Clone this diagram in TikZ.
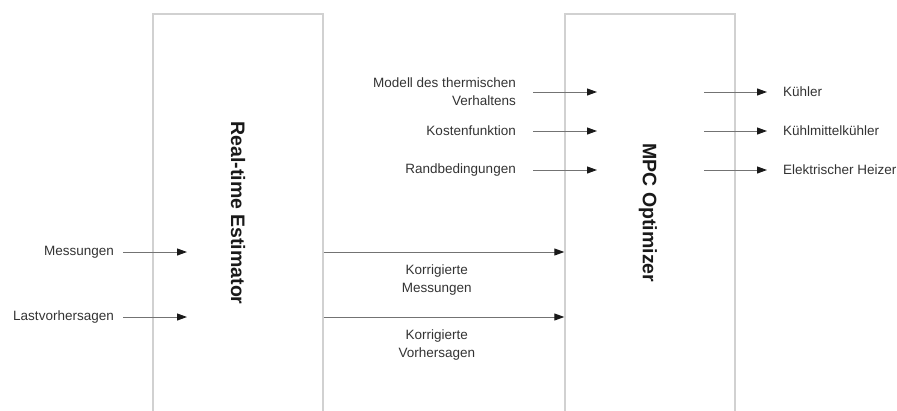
\documentclass[tikz,border=0pt]{standalone}
\usepackage{fontspec}
\setmainfont{Liberation Sans}
\usepackage{tikz}
\usetikzlibrary{arrows.meta, positioning, calc}

\begin{document}
\begin{tikzpicture}[
    x=1pt, y=-1pt,
    block/.style={rectangle, draw=black!18, line width=1.4pt, minimum width=170pt, minimum height=398pt},
    title/.style={font=\fontsize{19.5}{22}\selectfont\bfseries, text=black!90},
    lbl/.style={font=\fontsize{13.5}{18}\selectfont, text=black!80, inner sep=0pt, align=right},
    olbl/.style={font=\fontsize{13.5}{18}\selectfont, text=black!80, inner sep=0pt, align=left},
    clbl/.style={font=\fontsize{13.5}{18}\selectfont, text=black!80, inner sep=0pt, align=center},
    arrow/.style={draw=black!55, line width=1pt, -{Triangle[length=10pt, width=7pt, color=black!90]}}
]
\useasboundingbox (0,0) rectangle (897,410);

% Blocks
\node[block] (est) at (238,213) {};
\node[block] (mpc) at (650,213) {};
\node[title, rotate=-90] (esttitle) at (est.center) {Real-time Estimator};
\node[title, rotate=-90] (mpctitle) at ([xshift=-2pt]mpc.center) {MPC Optimizer};

% Inputs estimator
\node[lbl, anchor=east] (mess) at (114,252) {Messungen};
\node[lbl, anchor=east] (last) at (114,317) {Lastvorhersagen};
\coordinate (messtip) at (187,252);
\coordinate (lasttip) at (187,317);
\draw[arrow] ([xshift=9pt]mess.east) -- (messtip);
\draw[arrow] ([xshift=9pt]last.east) -- (lasttip);

% Estimator -> Optimizer
\draw[arrow] (est.east |- mess) -- (mpc.west |- mess)
    node[clbl, pos=0.47, below=12pt] (kmess) {Korrigierte\\Messungen};
\draw[arrow] (est.east |- last) -- (mpc.west |- last)
    node[clbl, pos=0.47, below=12pt] (kvor) {Korrigierte\\Vorhersagen};

% Inputs optimizer
\node[lbl, anchor=east] (modell) at (516,92) {Modell des thermischen\\Verhaltens};
\node[lbl, anchor=east] (kosten) at (516,131) {Kostenfunktion};
\node[lbl, anchor=east] (rand) at (516,170) {Randbedingungen};
\coordinate (modelltip) at (597,92);
\coordinate (kostentip) at (597,131);
\coordinate (randtip) at (597,170);
\draw[arrow] ([xshift=17pt]modell.east) -- (modelltip);
\draw[arrow] ([xshift=17pt]kosten.east) -- (kostentip);
\draw[arrow] ([xshift=17pt]rand.east) -- (randtip);

% Outputs optimizer
\node[olbl, anchor=west] (kuehler) at (783,92) {Kühler};
\node[olbl, anchor=west] (kmk) at (783,131) {Kühlmittelkühler};
\node[olbl, anchor=west] (heizer) at (783,170) {Elektrischer Heizer};
\coordinate (kuehlerstart) at (704,92);
\coordinate (kmkstart) at (704,131);
\coordinate (heizerstart) at (704,170);
\draw[arrow] (kuehlerstart) -- ([xshift=-16pt]kuehler.west);
\draw[arrow] (kmkstart) -- ([xshift=-16pt]kmk.west);
\draw[arrow] (heizerstart) -- ([xshift=-16pt]heizer.west);

\end{tikzpicture}
\end{document}
